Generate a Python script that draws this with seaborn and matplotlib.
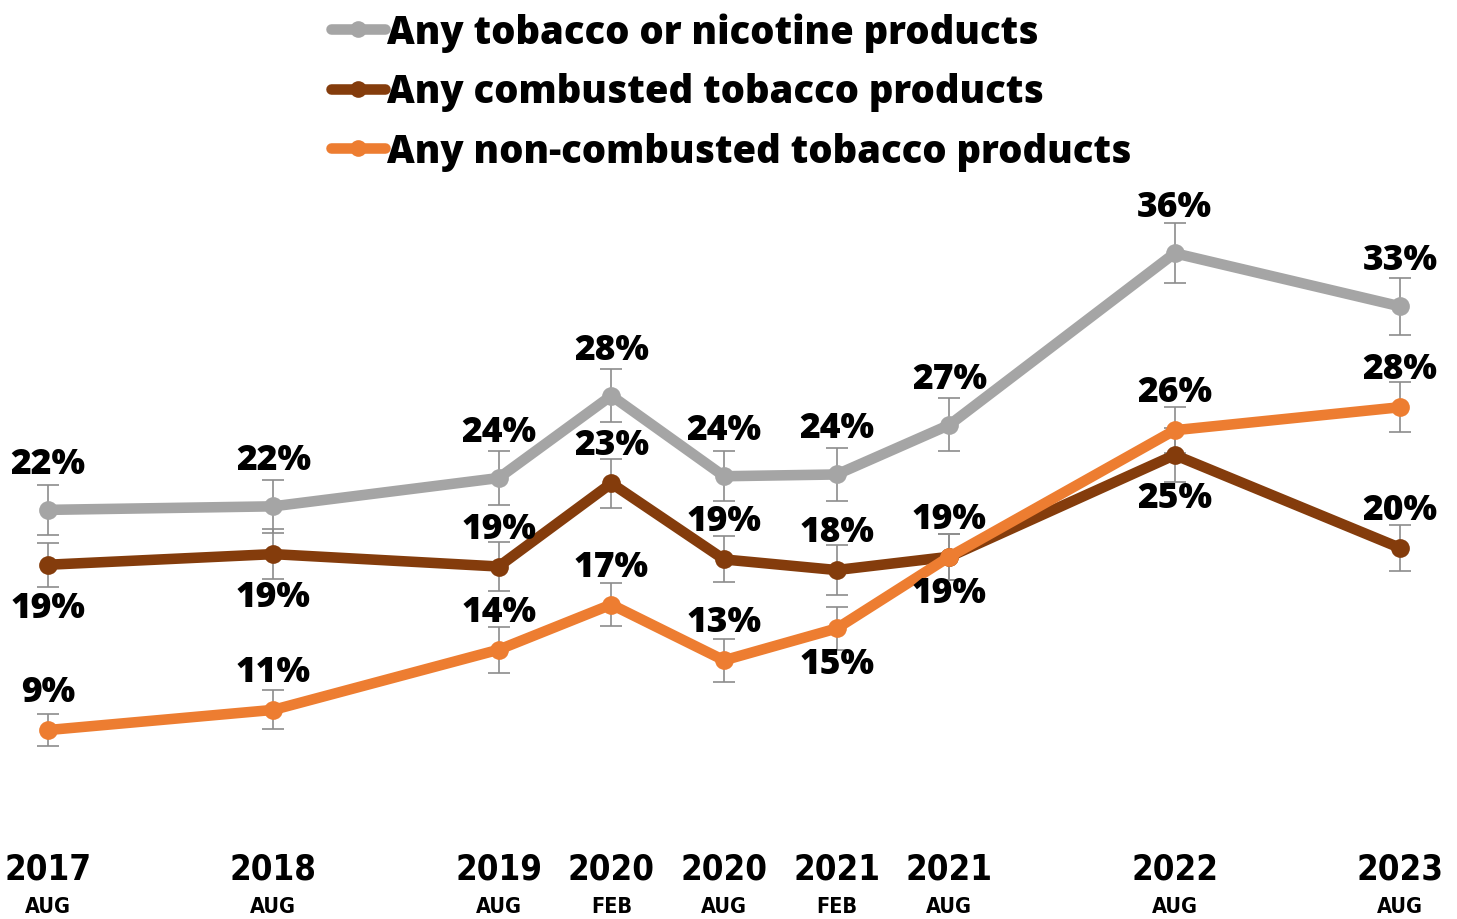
import matplotlib
matplotlib.use("Agg")
import matplotlib.pyplot as plt
from matplotlib import font_manager
from matplotlib.lines import Line2D
import pandas as pd
import seaborn as sns

# Survey waves: position in half-years since Aug 2017
wave_pos = [0, 2, 4, 5, 6, 7, 8, 10, 12]
wave_year = ["2017", "2018", "2019", "2020", "2020", "2021", "2021", "2022", "2023"]
wave_month = ["AUG", "AUG", "AUG", "FEB", "AUG", "FEB", "AUG", "AUG", "AUG"]

series_names = [
    "Any tobacco or nicotine products",
    "Any combusted tobacco products",
    "Any non-combusted tobacco products",
]

# Prevalence (%) and half-width of the 95% CI
any_tobacco = [21.9, 22.1, 23.7, 28.35, 23.8, 23.9, 26.7, 36.4, 33.4]
any_tobacco_ci = [1.4, 1.5, 1.5, 1.5, 1.4, 1.5, 1.5, 1.7, 1.6]
combusted = [18.8, 19.4, 18.7, 23.4, 19.1, 18.5, 19.25, 25.0, 19.75]
combusted_ci = [1.25, 1.4, 1.4, 1.4, 1.3, 1.4, 1.3, 1.55, 1.3]
non_combusted = [9.46, 10.6, 14.0, 16.55, 13.4, 15.2, 19.25, 26.4, 27.7]
non_combusted_ci = [0.9, 1.1, 1.3, 1.2, 1.2, 1.2, 1.3, 1.3, 1.4]

# Where each value label sits relative to its point
any_tobacco_side = ["above"] * 9
combusted_side = ["below", "below", "above", "above", "above", "above", "above", "below", "above"]
non_combusted_side = ["above", "above", "above", "above", "above", "below", "below", "above", "above"]

colors = ["#A5A5A5", "#843C0C", "#ED7D31"]

values = [any_tobacco, combusted, non_combusted]
cis = [any_tobacco_ci, combusted_ci, non_combusted_ci]
sides = [any_tobacco_side, combusted_side, non_combusted_side]
offsets = [(46, 46), (38, 43), (38, 36)]  # (above, below) in pixels

df = pd.DataFrame({
    "pos": wave_pos * 3,
    "pct": any_tobacco + combusted + non_combusted,
    "series": sum([[n] * len(wave_pos) for n in series_names], []),
})

sns.set_theme(style="white")
plt.rcParams["font.family"] = ["Open Sans", "DejaVu Sans"]

# Narrow face for the period labels
installed = {f.name for f in font_manager.fontManager.ttflist}
if "Liberation Sans Narrow" in installed:
    tick_font = dict(family="Liberation Sans Narrow", stretch="normal")
    year_size, month_size = 29, 18
elif "DejaVu Sans Condensed" in installed:
    tick_font = dict(family="DejaVu Sans Condensed", stretch="condensed")
    year_size, month_size = 27.5, 16.5
else:
    tick_font = dict(family="DejaVu Sans", stretch="condensed")
    year_size, month_size = 25, 15.5

W, H = 1457, 920
fig = plt.figure(figsize=(W / 100, H / 100), dpi=100)
ax = fig.add_axes([0, 80 / H, 1, 840 / H])

# Confidence intervals beneath the lines
for vals, ci in zip(values, cis):
    ax.errorbar(wave_pos, vals, yerr=ci, fmt="none", ecolor="#8C8C8C",
                elinewidth=1.2, capsize=8, capthick=1.2, zorder=1)

sns.lineplot(data=df, x="pos", y="pct", hue="series", hue_order=series_names,
             palette=colors, marker="o", markersize=13.5, markeredgewidth=0,
             linewidth=7.6, legend=False, ax=ax, zorder=3)
for line in ax.lines:
    line.set_solid_joinstyle("round")
    line.set_solid_capstyle("round")

# Value labels
for vals, side, (up, down) in zip(values, sides, offsets):
    for x, v, s in zip(wave_pos, vals, side):
        dy = up if s == "above" else -down
        ax.annotate(f"{round(v)}%", (x, v), xytext=(0, dy), textcoords="offset pixels",
                    ha="center", va="center", fontsize=25.5, fontweight="heavy",
                    color="black", zorder=5)

ax.set_xlim(-48 / 112.67, (W - 48) / 112.67)
ax.set_ylim((898.5 - 840) / 17.7, 898.5 / 17.7)
ax.set_xlabel("")
ax.set_ylabel("")
ax.set_yticks([])

# Two-row period labels: year on major ticks, month on minor ticks
ax.xaxis.remove_overlapping_locs = False
ax.set_xticks(wave_pos)
ax.set_xticklabels(wave_year, fontsize=year_size, fontweight="bold",
                   color="black", **tick_font)
ax.set_xticks(wave_pos, minor=True)
ax.set_xticklabels(wave_month, minor=True, fontsize=month_size, fontweight="bold",
                   color="black", **tick_font)
ax.tick_params(axis="x", which="major", length=0, pad=9)
ax.tick_params(axis="x", which="minor", length=0, pad=41)
for sp in ax.spines.values():
    sp.set_visible(False)

handles = [Line2D([], [], color=c, linewidth=7.6, marker="o", markersize=12,
                  markeredgewidth=0, solid_capstyle="round") for c in colors]
fig.legend(handles, series_names, loc="upper left",
           bbox_to_anchor=(312 / W, 1.0 + 6 / H), frameon=False,
           prop={"size": 27.5, "weight": "heavy"}, labelcolor="black",
           handlelength=1.42, handletextpad=0.05, labelspacing=0.54,
           borderaxespad=0.1)

fig.savefig("out.png", dpi=100, facecolor="white")
